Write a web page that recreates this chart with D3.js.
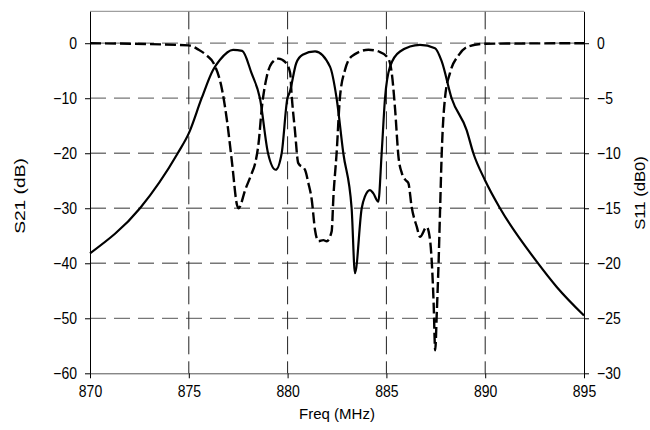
<!DOCTYPE html>
<html>
<head>
<meta charset="utf-8">
<script src="https://cdn.jsdelivr.net/npm/d3@7"></script>
<style>
  html, body { margin: 0; padding: 0; background: #fff; }
  svg { display: block; font-family: "Liberation Sans", Arial, sans-serif; }
</style>
</head>
<body>
<svg id="chart" width="650" height="430"></svg>
<script>
// S21 (left axis, dB)
const s21Freq = [870, 872.53, 874.44, 875.01, 875.65, 876.22, 876.58, 877.24, 877.7, 878.18, 878.6, 879.01, 879.4,
  879.7, 879.99, 880.1, 880.44, 880.76, 881.39, 882.15, 882.48, 882.82, 883.24, 883.41, 883.75, 883.91,
  884.17, 884.34, 884.59, 884.76, 884.93, 885.18, 885.69, 886.7, 887.46, 887.8, 888.3, 889.06, 889.4,
  889.99, 890.75, 892.61, 893.62, 895];
const s21Values = [-38.2, -30, -20, -16.3, -10, -4.9, -3.0, -1.2, -1.4, -5.5, -10, -20, -23.0,
  -20, -10, -9.0, -3.6, -2.1, -1.5, -4.3, -10, -20, -30, -41.8, -30, -27.9,
  -26.7, -27.3, -28.8, -20, -10, -4.3, -1.5, -0.3, -0.9, -3.3, -10, -15.8, -20,
  -24.9, -30, -39.7, -44.3, -49.5];

// S11 (right axis, dB)
const s11Freq = [870, 875.0, 875.5, 875.9, 876.25, 876.68, 876.93, 877.19, 877.44, 877.52, 877.86, 878.19,
  878.36, 878.53, 878.7, 878.95, 879.2, 879.54, 879.87, 880.13, 880.2, 880.37, 880.54, 880.88, 881.05,
  881.22, 881.39, 881.56, 881.81, 881.98, 882.23, 882.32, 882.48, 882.65, 882.91, 883.24, 884.09, 884.68,
  885.1, 885.27, 885.44, 885.61, 885.78, 885.95, 886.11, 886.28, 886.54, 886.7, 887.04, 887.21, 887.3,
  887.39, 887.47, 887.55, 887.64, 887.72, 887.8, 887.97, 888.22, 888.65, 889.14, 890, 895];
const s11Values = [0, -0.2, -0.6, -1.1, -1.8, -4.2, -7.0, -10.9, -14.7, -15.0, -13.3, -11.8,
  -10.9, -9.1, -5.8, -3.0, -1.8, -1.4, -1.7, -2.7, -4.6, -7.9, -10.9, -11.5, -12.7,
  -14.2, -17.0, -18.0, -17.9, -18.0, -17.1, -13.9, -10, -4.9, -2.4, -1.2, -0.6, -0.8,
  -1.4, -2.7, -6.0, -10.3, -11.8, -12.4, -12.7, -14.9, -16.7, -17.6, -16.7, -17.9, -20,
  -23.6, -27.9, -24.5, -20, -14.9, -10, -4.9, -2.7, -1.1, -0.3, -0.05, 0];

const xTicks = [870, 875, 880, 885, 890, 895];
const s21Ticks = [0, -10, -20, -30, -40, -50, -60];
const s11Ticks = [0, -5, -10, -15, -20, -25, -30];

const svg = d3.select('#chart');
const plotLeft = 90, plotRight = 584, plotTop = 11.3, plotBottom = 373.3;

const x = d3.scaleLinear().domain([870, 895]).range([plotLeft, plotRight]);
const yL = d3.scaleLinear().domain([-60, 5.8]).range([plotBottom, plotTop]);
const yR = d3.scaleLinear().domain([-30, 2.9]).range([plotBottom, plotTop]);

// grid
const grid = svg.append('g');
grid.selectAll('line.h')
  .data(s21Ticks.filter((d) => d > -60))
  .join('line')
  .attr('class', 'h')
  .attr('x1', plotLeft).attr('x2', plotRight)
  .attr('y1', (d) => yL(d)).attr('y2', (d) => yL(d))
  .attr('stroke', '#777').attr('stroke-width', 1.3)
  .attr('stroke-dasharray', '16,8');
grid.selectAll('line.v')
  .data(xTicks.filter((d) => d > 870 && d < 895))
  .join('line')
  .attr('class', 'v')
  .attr('x1', (d) => x(d)).attr('x2', (d) => x(d))
  .attr('y1', plotTop).attr('y2', plotBottom)
  .attr('stroke', '#222').attr('stroke-width', 1)
  .attr('stroke-dasharray', '18,7');

// top border
svg.append('line')
  .attr('x1', plotLeft).attr('x2', plotRight)
  .attr('y1', plotTop).attr('y2', plotTop)
  .attr('stroke', '#888').attr('stroke-width', 1);

// curves
const s21Line = d3.line()
  .x((d, i) => x(s21Freq[i]))
  .y((d) => yL(d))
  .curve(d3.curveMonotoneX);
const s11Line = d3.line()
  .x((d, i) => x(s11Freq[i]))
  .y((d) => yR(d))
  .curve(d3.curveMonotoneX);

svg.append('path')
  .attr('d', s11Line(s11Values))
  .attr('fill', 'none').attr('stroke', '#000')
  .attr('stroke-width', 2.4).attr('stroke-dasharray', '11,4');
svg.append('path')
  .attr('d', s21Line(s21Values))
  .attr('fill', 'none').attr('stroke', '#000')
  .attr('stroke-width', 2.2);

// axes
const styleAxis = (g, color) => {
  g.select('.domain').attr('stroke', color);
  g.selectAll('.tick line').attr('stroke', '#000');
  g.selectAll('.tick text').attr('fill', '#000')
    .attr('transform', 'scale(1,1.15)')
    .style('font-size', '14px')
    .style('font-family', '"Liberation Sans", Arial, sans-serif');
};

svg.append('g')
  .attr('transform', `translate(0,${plotBottom})`)
  .call(d3.axisBottom(x).tickValues(xTicks).tickSize(5).tickSizeOuter(0).tickPadding(6))
  .call((g) => styleAxis(g, '#555'));
svg.append('g')
  .attr('transform', `translate(${plotLeft},0)`)
  .call(d3.axisLeft(yL).tickValues(s21Ticks).tickSize(5).tickSizeOuter(0).tickPadding(8))
  .call((g) => styleAxis(g, '#000'));
svg.append('g')
  .attr('transform', `translate(${plotRight},0)`)
  .call(d3.axisRight(yR).tickValues(s11Ticks).tickSize(5).tickSizeOuter(0).tickPadding(8))
  .call((g) => styleAxis(g, '#000'));

// titles
const title = (text, tx, ty, rot, stretch) => svg.append('text')
  .attr('transform', `translate(${tx},${ty}) rotate(${rot}) scale(${stretch},1)`)
  .attr('text-anchor', 'middle')
  .attr('fill', '#000')
  .style('font-size', '15px')
  .text(text);
title('S21 (dB)', 25, 196, -90, 1.28);
title('S11 (dB0)', 645, 193, -90, 1.11);
title('Freq (MHz)', 337, 419, 0, 1);
</script>
</body>
</html>
